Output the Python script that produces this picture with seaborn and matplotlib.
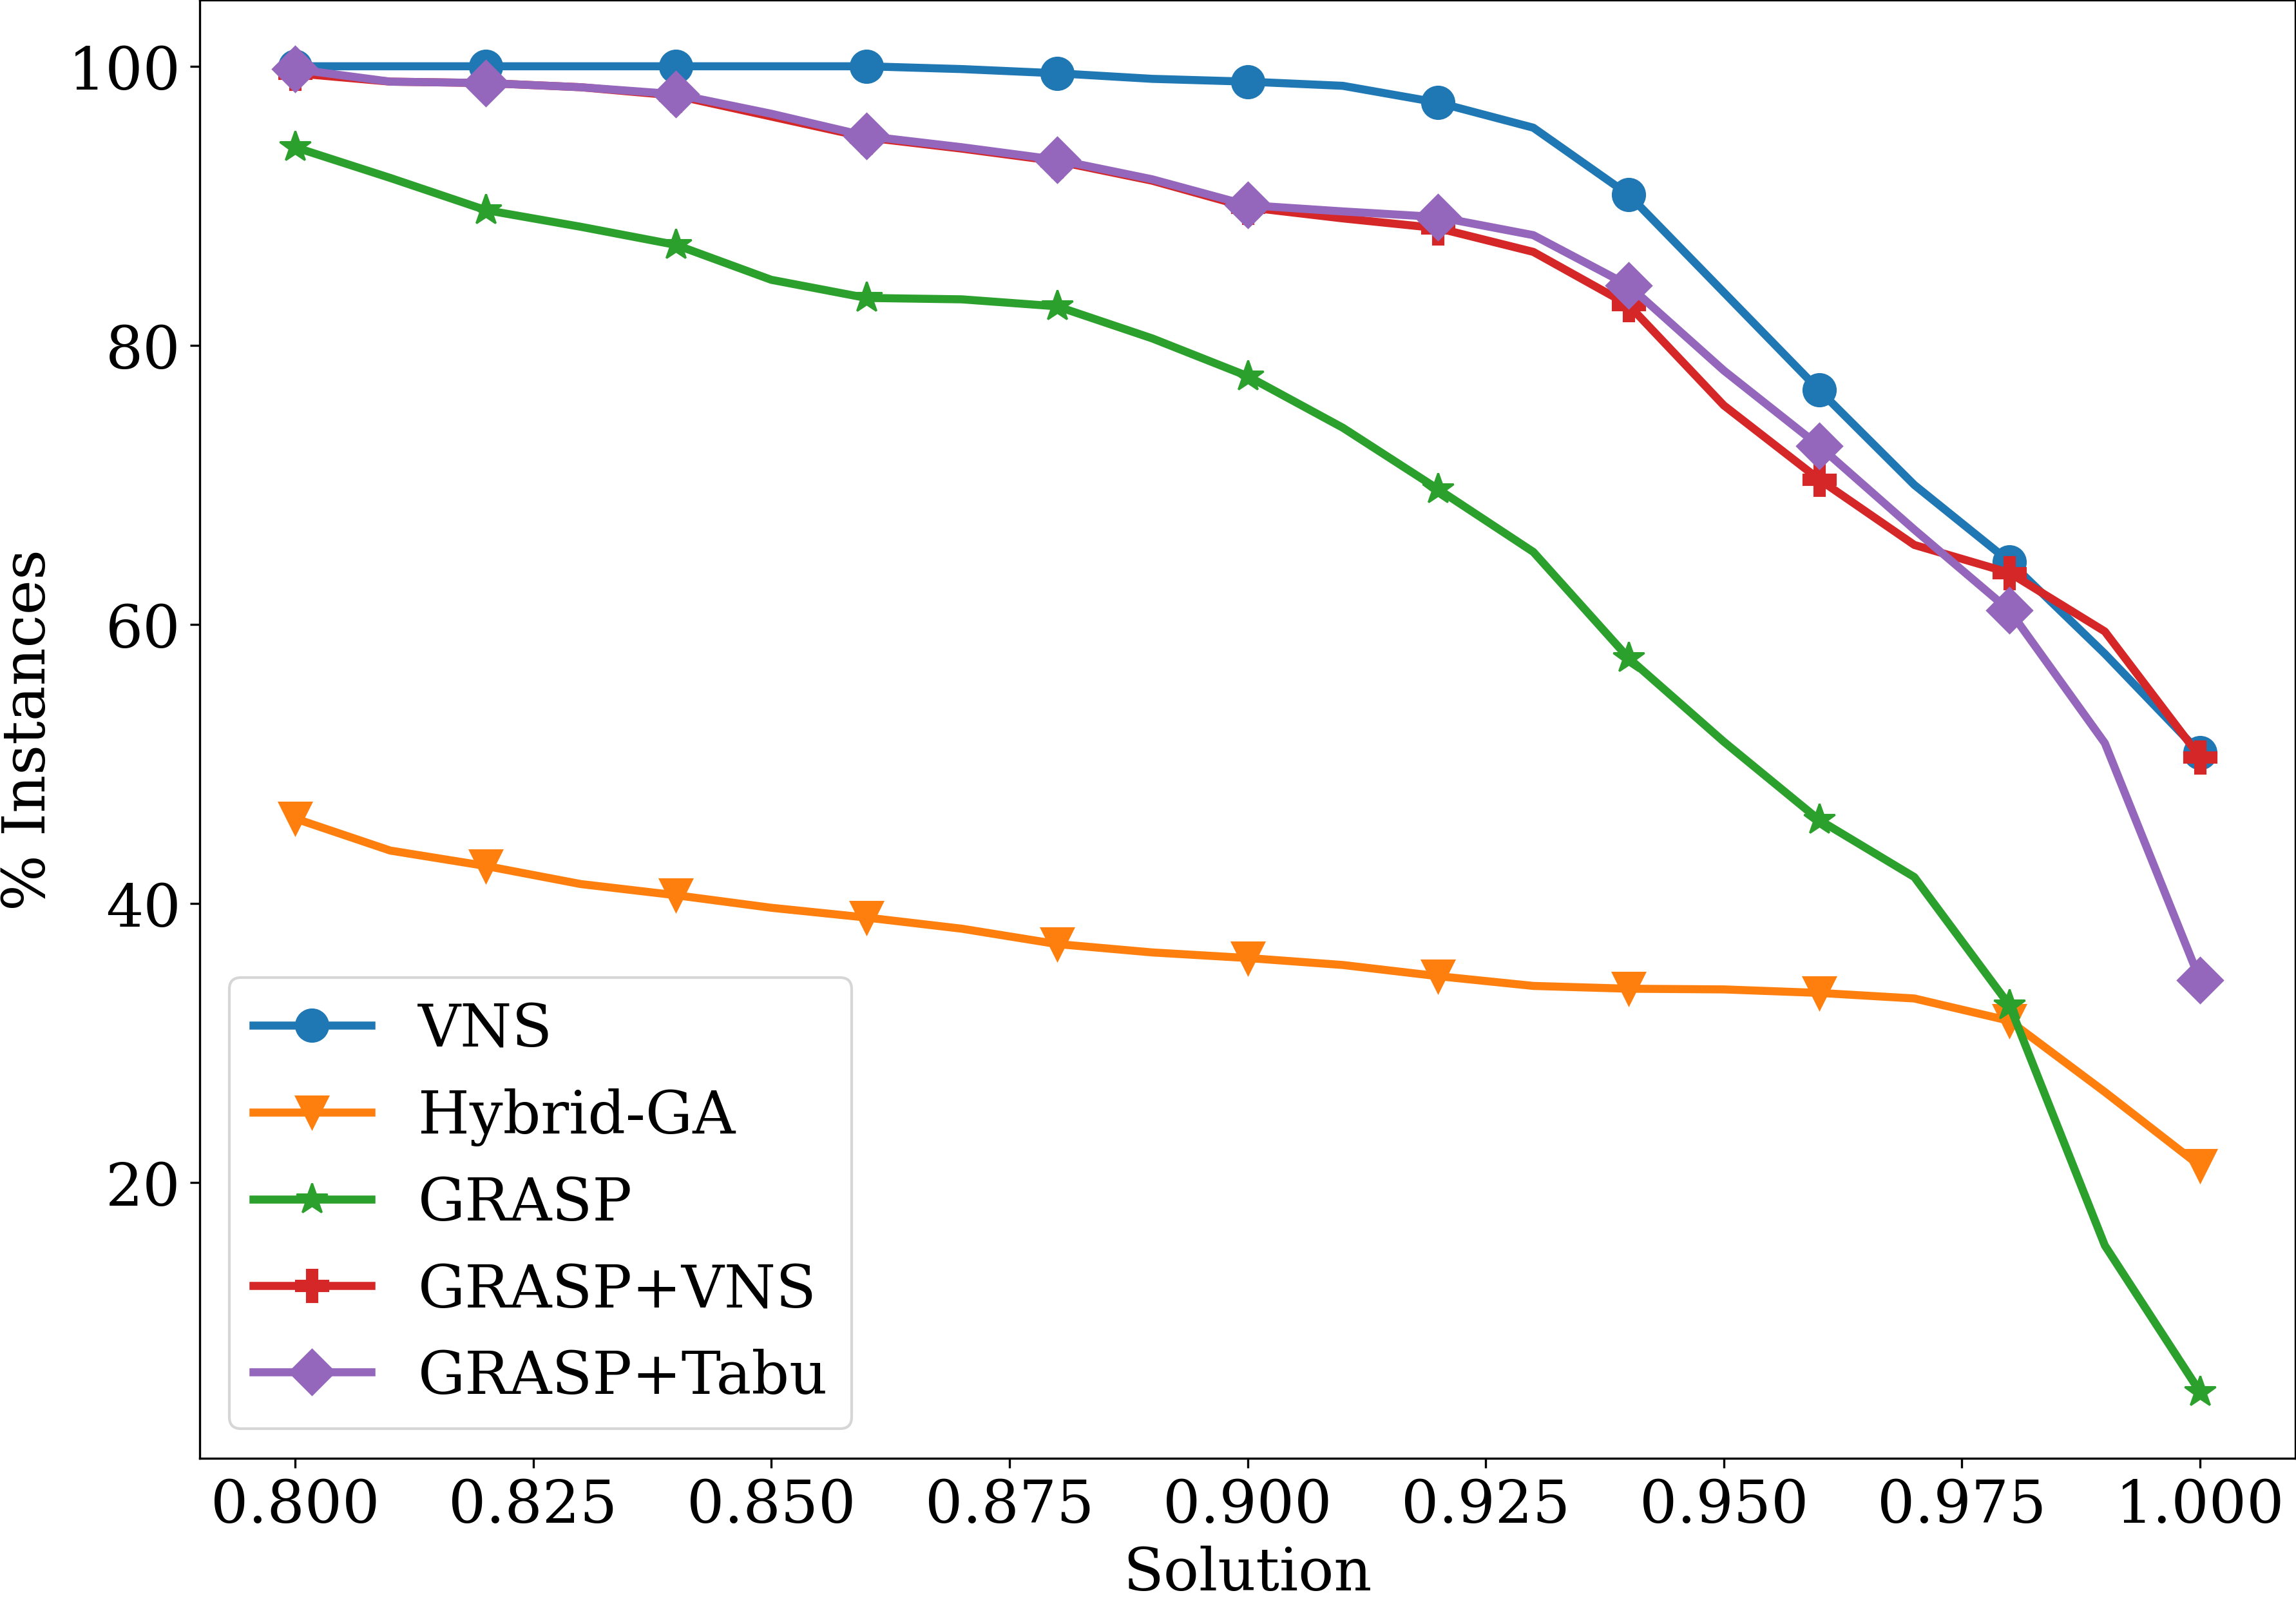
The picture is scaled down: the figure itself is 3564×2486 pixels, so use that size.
import matplotlib
matplotlib.use("Agg")
import matplotlib.pyplot as plt
import seaborn as sns
import pandas as pd

solution = [0.80, 0.81, 0.82, 0.83, 0.84, 0.85, 0.86, 0.87, 0.88, 0.89, 0.90,
            0.91, 0.92, 0.93, 0.94, 0.95, 0.96, 0.97, 0.98, 0.99, 1.00]

vns = [100.0, 100.0, 100.0, 100.0, 100.0, 100.0, 100.0, 99.8, 99.5, 99.1, 98.9,
       98.6, 97.4, 95.6, 90.8, 83.8, 76.8, 70.0, 64.5, 57.9, 50.8]
hybrid_ga = [46.1, 43.8, 42.7, 41.4, 40.6, 39.7, 39.0, 38.2, 37.1, 36.5, 36.1,
             35.6, 34.8, 34.1, 33.9, 33.85, 33.6, 33.2, 31.6, 26.5, 21.2]
grasp = [94.2, 92.0, 89.7, 88.5, 87.2, 84.7, 83.4, 83.3, 82.8, 80.5, 77.8,
         74.1, 69.7, 65.2, 57.6, 51.6, 46.0, 41.9, 32.7, 15.5, 5.0]
grasp_vns = [99.5, 98.9, 98.8, 98.5, 97.9, 96.4, 94.9, 94.1, 93.2, 91.8, 89.9,
             89.1, 88.4, 86.7, 82.9, 75.7, 70.4, 65.7, 63.7, 59.5, 50.5]
grasp_tabu = [99.8, 98.9, 98.8, 98.5, 98.0, 96.6, 95.0, 94.2, 93.3, 91.9, 90.05,
              89.6, 89.2, 87.9, 84.3, 78.2, 72.8, 66.8, 61.0, 51.5, 34.5]

series_names = ["VNS", "Hybrid-GA", "GRASP", "GRASP+VNS", "GRASP+Tabu"]
series_values = [vns, hybrid_ga, grasp, grasp_vns, grasp_tabu]
markers = ["o", "v", "*", "P", "D"]
colors = ["#1f77b4", "#ff7f0e", "#2ca02c", "#d62728", "#9467bd"]

plt.rcParams["font.family"] = ["DejaVu Serif"]
plt.rcParams["font.size"] = 22

fig = plt.figure(figsize=(3564 / 300, 2487 / 300), dpi=300)
ax = fig.add_axes([310 / 3564, 1 - 2264 / 2487, (3563 - 310) / 3564, (2264 - 1) / 2487])

for name, vals, mk, col in zip(series_names, series_values, markers, colors):
    df = pd.DataFrame({"Solution": solution, "value": vals})
    sns.lineplot(data=df, x="Solution", y="value", ax=ax, label=name,
                 color=col, marker=mk, markersize=12, linewidth=3,
                 markevery=2, markeredgecolor=col)

ax.set_xlabel("Solution", fontsize=22)
ax.set_ylabel("% Instances", fontsize=22)
ax.tick_params(labelsize=22)
ax.set_xticks([0.800, 0.825, 0.850, 0.875, 0.900, 0.925, 0.950, 0.975, 1.000])
ax.set_xticklabels(["0.800", "0.825", "0.850", "0.875", "0.900", "0.925",
                    "0.950", "0.975", "1.000"])
ax.set_yticks([20, 40, 60, 80, 100])
ax.legend(loc="lower left", fontsize=22)

fig.savefig("out.png", dpi=300)
